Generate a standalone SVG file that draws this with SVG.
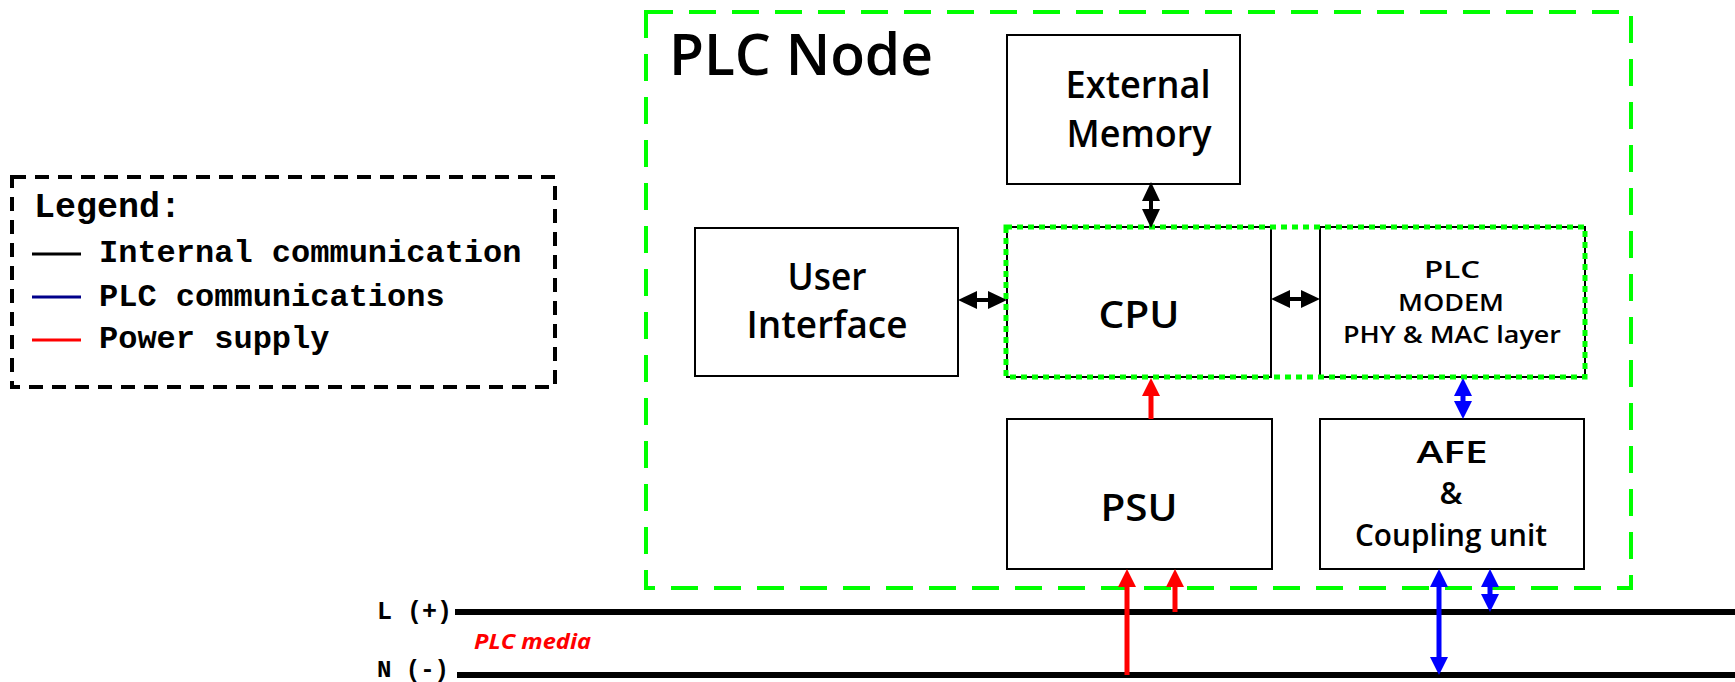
<svg xmlns="http://www.w3.org/2000/svg" width="1735" height="682" viewBox="0 0 1735 682">
<style>
.box{fill:#fff;stroke:#000;stroke-width:2}
.lbl{font-family:"Comic Sans MS","Open Sans",sans-serif;font-weight:600;fill:#000;text-anchor:middle}
.mono{font-family:"Liberation Mono","Courier New",monospace;font-weight:bold;fill:#000}
.blk{stroke:#000;stroke-width:4;fill:none}
.red{stroke:#f00;stroke-width:5;fill:none}
.blu{stroke:#00f;stroke-width:5;fill:none}
.wire{stroke:#000;stroke-width:6;fill:none}
</style>
<defs>
<marker id="hb" markerUnits="userSpaceOnUse" markerWidth="19" markerHeight="18" viewBox="0 0 19 18" refX="9" refY="9" orient="auto-start-reverse"><path d="M0,0 L19,9 L0,18 z" fill="#000"/></marker>
<marker id="hr" markerUnits="userSpaceOnUse" markerWidth="18" markerHeight="18" viewBox="0 0 18 18" refX="9" refY="9" orient="auto-start-reverse"><path d="M0,0 L18,9 L0,18 z" fill="#f00"/></marker>
<marker id="hu" markerUnits="userSpaceOnUse" markerWidth="18" markerHeight="18" viewBox="0 0 18 18" refX="9" refY="9" orient="auto-start-reverse"><path d="M0,0 L18,9 L0,18 z" fill="#00f"/></marker>
</defs>
<rect width="1735" height="682" fill="#fff"/>

<g id="legend">
<rect x="12" y="177" width="543" height="210" fill="none" stroke="#000" stroke-width="4" stroke-dasharray="14 9"/>
<text class="mono" x="34" y="217" font-size="35">Legend:</text>
<line x1="32" y1="254" x2="81" y2="254" stroke="#000" stroke-width="3"/>
<text class="mono" x="99" y="262" font-size="32">Internal communication</text>
<line x1="32" y1="297" x2="81" y2="297" stroke="#00008b" stroke-width="3"/>
<text class="mono" x="99" y="306" font-size="32">PLC communications</text>
<line x1="32" y1="340" x2="81" y2="340" stroke="#f00" stroke-width="3"/>
<text class="mono" x="99" y="348" font-size="32">Power supply</text>
</g>

<g id="plc-node">
<rect x="646" y="12" width="985" height="576" fill="none" stroke="#00ff00" stroke-width="4" stroke-dasharray="27 16"/>
<text class="lbl" x="801" y="75" font-size="58" textLength="264" lengthAdjust="spacingAndGlyphs">PLC Node</text>
</g>

<g id="external-memory">
<rect class="box" x="1007" y="35" width="233" height="149"/>
<text class="lbl" x="1138" y="98" font-size="38" textLength="145" lengthAdjust="spacingAndGlyphs">External</text>
<text class="lbl" x="1139" y="147" font-size="38" textLength="145" lengthAdjust="spacingAndGlyphs">Memory</text>
</g>

<g id="user-interface">
<rect class="box" x="695" y="228" width="263" height="148"/>
<text class="lbl" x="827" y="290" font-size="38" textLength="79" lengthAdjust="spacingAndGlyphs">User</text>
<text class="lbl" x="827" y="338" font-size="38" textLength="161" lengthAdjust="spacingAndGlyphs">Interface</text>
</g>

<g id="cpu">
<rect class="box" x="1007" y="227" width="264" height="150"/>
<text class="lbl" x="1139" y="328" font-size="38" textLength="81" lengthAdjust="spacingAndGlyphs">CPU</text>
</g>

<g id="plc-modem">
<rect class="box" x="1320" y="227" width="265" height="150"/>
<text class="lbl" x="1452" y="278" font-size="24" textLength="56" lengthAdjust="spacingAndGlyphs">PLC</text>
<text class="lbl" x="1451" y="311" font-size="24" textLength="106" lengthAdjust="spacingAndGlyphs">MODEM</text>
<text class="lbl" x="1452" y="343" font-size="24" textLength="218" lengthAdjust="spacingAndGlyphs">PHY &amp; MAC layer</text>
</g>

<g id="cpu-modem-group">
<rect x="1006" y="227" width="579" height="150" fill="none" stroke="#00ff00" stroke-width="5" stroke-dasharray="6 5"/>
</g>

<g id="psu">
<rect class="box" x="1007" y="419" width="265" height="150"/>
<text class="lbl" x="1139" y="521" font-size="38" textLength="77" lengthAdjust="spacingAndGlyphs">PSU</text>
</g>

<g id="afe">
<rect class="box" x="1320" y="419" width="264" height="150"/>
<text class="lbl" x="1452" y="463" font-size="31" textLength="71" lengthAdjust="spacingAndGlyphs">AFE</text>
<text class="lbl" x="1451" y="504" font-size="31">&amp;</text>
<text class="lbl" x="1451" y="546" font-size="31" textLength="192" lengthAdjust="spacingAndGlyphs">Coupling unit</text>
</g>

<g id="plc-media">
<line class="wire" x1="455" y1="612" x2="1735" y2="612"/>
<line class="wire" x1="457" y1="675" x2="1735" y2="675"/>
<text class="mono" x="377" y="619" font-size="25">L (+)</text>
<text class="mono" x="377" y="677" font-size="24">N (-)</text>
<text x="474" y="649" font-family="'Comic Sans MS','Open Sans',sans-serif" font-weight="bold" font-style="italic" font-size="22" fill="#f00" textLength="117" lengthAdjust="spacingAndGlyphs">PLC media</text>
</g>

<g id="connectors">
<line class="blk" x1="1151" y1="192" x2="1151" y2="218" marker-start="url(#hb)" marker-end="url(#hb)"/>
<line class="blk" x1="968" y1="300" x2="997" y2="300" marker-start="url(#hb)" marker-end="url(#hb)"/>
<line class="blk" x1="1281" y1="299" x2="1310" y2="299" marker-start="url(#hb)" marker-end="url(#hb)"/>
<line class="red" x1="1151" y1="419" x2="1151" y2="387" marker-end="url(#hr)"/>
<line class="red" x1="1127" y1="675" x2="1127" y2="578" marker-end="url(#hr)"/>
<line class="red" x1="1175" y1="612" x2="1175" y2="578" marker-end="url(#hr)"/>
<line class="blu" x1="1463" y1="387" x2="1463" y2="410" marker-start="url(#hu)" marker-end="url(#hu)"/>
<line class="blu" x1="1439" y1="578" x2="1439" y2="666" marker-start="url(#hu)" marker-end="url(#hu)"/>
<line class="blu" x1="1490" y1="578" x2="1490" y2="603" marker-start="url(#hu)" marker-end="url(#hu)"/>
</g>
</svg>
